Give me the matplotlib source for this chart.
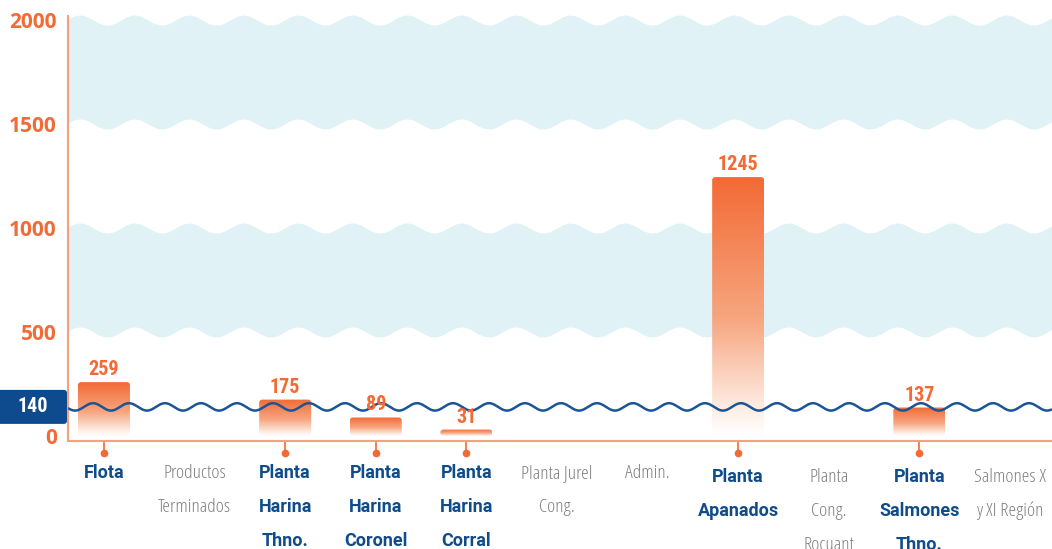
import numpy as np
import matplotlib
matplotlib.use("Agg")
import matplotlib.pyplot as plt
from matplotlib.patches import FancyBboxPatch
from matplotlib.colors import LinearSegmentedColormap
import matplotlib.transforms as mtrans

# ---------------- data ----------------
categories = ["Flota", "Productos\nTerminados", "Planta\nHarina\nThno.",
              "Planta\nHarina\nCoronel", "Planta\nHarina\nCorral",
              "Planta Jurel\nCong.", "Admin.", "Planta\nApanados",
              "Planta\nCong.\nRocuant", "Planta\nSalmones\nThno.",
              "Salmones X\ny XI Región"]
values = [259, np.nan, 175, 89, 31, np.nan, np.nan, 1245, np.nan, 137, np.nan]
target = 140
yticks = [0, 500, 1000, 1500, 2000]
bands = [(1500, 2000), (500, 1000)]

# ---------------- style ----------------
ORANGE = "#f26a35"
SPINE = "#f7a07c"
BAND = "#e1f2f7"
WAVE = "#1b5596"
BOX = "#0d4b8e"
BLUE = "#0f4c8a"
GRAY = "#808080"
COND = ["Roboto Condensed", "Roboto", "DejaVu Sans"]

W, H = 1052, 549
fig = plt.figure(figsize=(W / 100, H / 100), dpi=100)
ax = fig.add_axes([68 / W, 108 / H, 984 / W, 433 / H])
XMIN, XMAX = -0.397, 10.464
YMIN, YMAX = -24, 2058
pxx = 984 / (XMAX - XMIN)   # px per x unit
pxy = 433 / (YMAX - YMIN)   # px per y unit

xs = np.linspace(XMIN, XMAX, 3000)

# wavy light-blue bands
P = 54.5 / pxx
A = 5 / pxy
for lo, hi in bands:
    w = A * np.cos(2 * np.pi * (xs + 0.265) / P)
    ax.fill_between(xs, lo + w, hi + w, color=BAND, lw=0, zorder=0)

# bars with vertical gradient
cmap = LinearSegmentedColormap.from_list(
    "g", [(0, "#ffffff"), (0.07, "#fef4ee"), (0.45, "#f7a680"), (1, ORANGE)])
grad = np.linspace(0, 1, 256).reshape(-1, 1)
bw = 52 / pxx
rs = 3 / pxx
for i, v in enumerate(values):
    if np.isnan(v):
        continue
    patch = FancyBboxPatch((i - bw / 2, 0), bw, v,
                           boxstyle=f"round,pad=0,rounding_size={rs}",
                           mutation_aspect=(1 / pxy) / (1 / pxx),
                           facecolor="none", edgecolor="none", zorder=2)
    ax.add_patch(patch)
    im = ax.imshow(grad, extent=[i - bw / 2, i + bw / 2, 0, v], origin="lower",
                   aspect="auto", cmap=cmap, zorder=2, interpolation="bilinear")
    im.set_clip_path(patch)
    ax.annotate(f"{int(v)}", xy=(i, v), xytext=(0, 7), textcoords="offset pixels",
                ha="center", va="baseline", color=ORANGE, fontsize=14.5,
                fontweight="bold", family=COND, zorder=5)

# target wave line
P2 = 36 / pxx
A2 = 3.7 / pxy
ax.plot(xs, target + A2 * np.cos(2 * np.pi * (xs + 0.121) / P2),
        color=WAVE, lw=1.8, zorder=4, solid_capstyle="butt")

# target label box
bt = mtrans.blended_transform_factory(fig.transFigure, ax.transData)
box = FancyBboxPatch((-5 / W, target - 17 / pxy), 72 / W, 34 / pxy,
                     boxstyle=f"round,pad=0,rounding_size={3 / W}",
                     mutation_aspect=(1 / pxy) / (1 / W),
                     facecolor=BOX, edgecolor="none", transform=bt,
                     clip_on=False, zorder=6)
fig.patches.append(box)
box.set_figure(fig)
fig.text(33 / W, target, f"{target}", transform=bt, ha="center", va="center",
         color="white", fontsize=14.5, fontweight="bold", family=COND, zorder=7)

# axes styling
ax.set_xlim(XMIN, XMAX)
ax.set_ylim(YMIN, YMAX)
for s in ("top", "right"):
    ax.spines[s].set_visible(False)
ax.spines["left"].set_color(SPINE)
ax.spines["left"].set_linewidth(1.5)
ax.spines["left"].set_bounds(YMIN, 2019)
ax.spines["bottom"].set_color(SPINE)
ax.spines["bottom"].set_linewidth(1.5)

ax.set_yticks(yticks)
ax.set_yticklabels([str(t) for t in yticks], fontsize=15, fontweight="bold",
                   color=ORANGE, family=["Open Sans", "DejaVu Sans"])
ax.tick_params(axis="y", length=0, pad=8)

bar_idx = [i for i, v in enumerate(values) if not np.isnan(v)]
ax.set_xticks(bar_idx)
ax.set_xticklabels([""] * len(bar_idx))
ax.tick_params(axis="x", length=9, width=1.2, color=ORANGE, direction="out")

xt = mtrans.blended_transform_factory(ax.transData, ax.transAxes)
dot_t = mtrans.offset_copy(xt, fig=fig, y=-12, units="dots")
ax.plot(bar_idx, [0] * len(bar_idx), "o", ms=4.5, color=ORANGE,
        transform=dot_t, clip_on=False, zorder=6)

# category labels
for i, (cat, v) in enumerate(zip(categories, values)):
    has = not np.isnan(v)
    shift = 4 if i >= 7 else 0
    for j, line in enumerate(cat.split("\n")):
        if has:
            kw = dict(fontsize=13, color=BLUE, fontweight="bold",
                      family=["Roboto", "DejaVu Sans"])
        else:
            kw = dict(fontsize=14, color=GRAY, fontweight=300,
                      fontstretch="condensed", family=["Open Sans", "DejaVu Sans"])
        ax.annotate(line, xy=(i, 0), xycoords=xt,
                    xytext=(0, -(37 + 34 * j + shift)), textcoords="offset pixels",
                    ha="center", va="baseline", **kw)

fig.savefig("out.png", dpi=100)
